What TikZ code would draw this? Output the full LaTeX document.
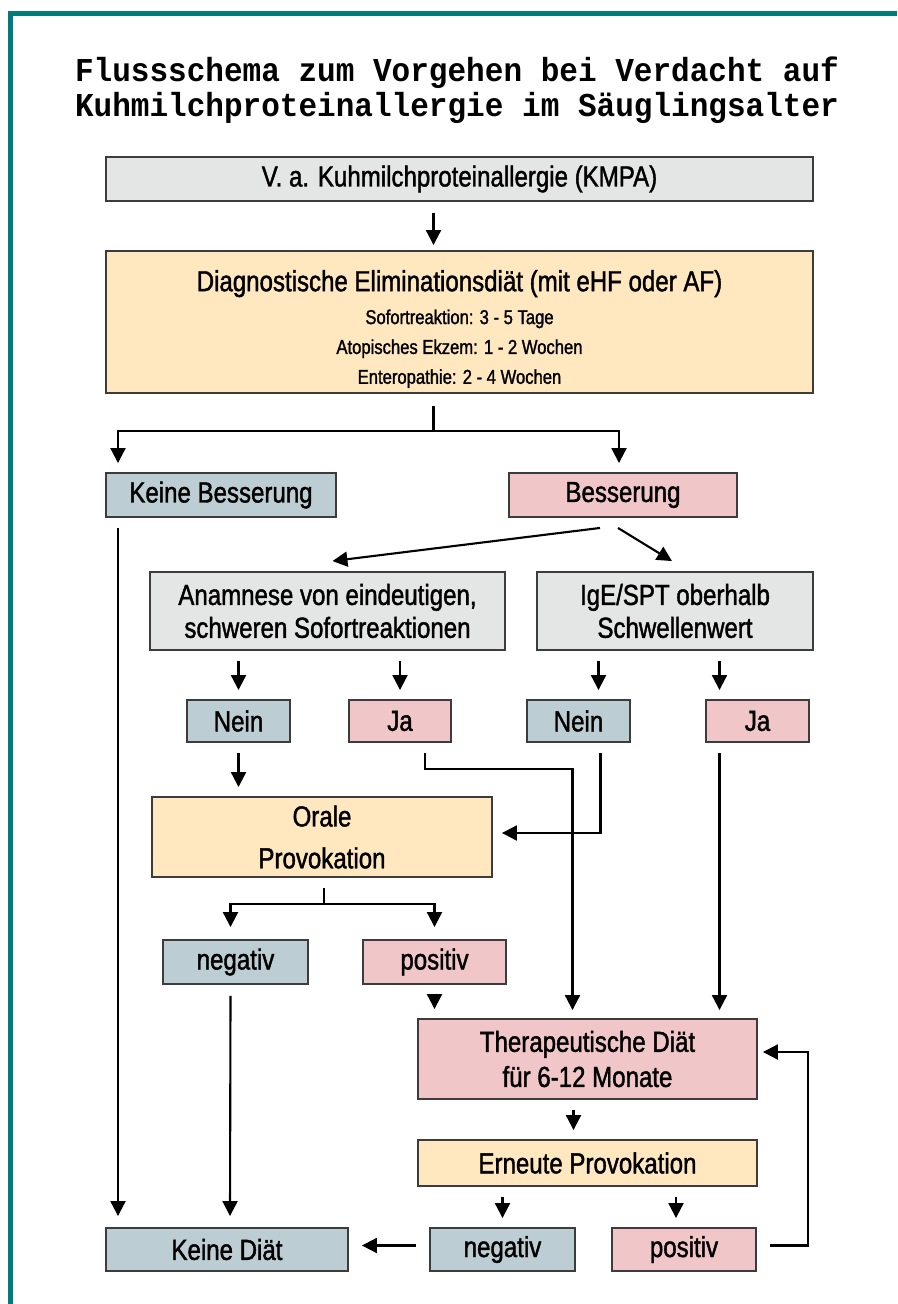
\documentclass[tikz,border=0pt]{standalone}
\usepackage{fontspec}
\setmainfont{Liberation Sans}[FakeStretch=0.83, FakeBold=1.4]
\newfontfamily\titlefont{Liberation Mono}[FakeStretch=0.93]
\usepackage{xcolor}
\usepackage{tikz}
\usetikzlibrary{positioning,calc,arrows.meta}
\definecolor{frameteal}{RGB}{0,122,122}
\definecolor{boxline}{RGB}{60,60,60}
\definecolor{boxgrey}{RGB}{228,229,229}
\definecolor{boxyellow}{RGB}{255,232,192}
\definecolor{boxblue}{RGB}{188,206,211}
\definecolor{boxpink}{RGB}{241,198,200}
\newcommand{\boxfont}{\fontsize{16.5}{20}\selectfont}
\newcommand{\subfont}{\fontsize{11.4}{17}\selectfont}
\tikzset{
	plainbox/.style = {draw=boxline, line width=1.1pt, inner sep=0, align=center, font=\boxfont},
	greybox/.style = {plainbox, fill=boxgrey},
	yellowbox/.style = {plainbox, fill=boxyellow},
	bluebox/.style = {plainbox, fill=boxblue},
	pinkbox/.style = {plainbox, fill=boxpink},
	boxsize/.style 2 args = {minimum width=#1, minimum height=#2},
	arr/.style = {-{Triangle[length=8.5pt,width=8.5pt]}, line width=1.2pt},
	gap/.style = {shorten <=0.2cm, shorten >=0.18cm}
}

\begin{document}
\begin{tikzpicture}[x=0.02cm, y=-0.02cm]
	\useasboundingbox (0,0) rectangle (897,1304);
	\fill[frameteal] (8,11) rectangle (897,16);
	\fill[frameteal] (8,11) rectangle (13,1304);
	
	\node [font=\titlefont\bfseries\fontsize{19}{20}\selectfont, align=center] (title) at (457,90)
		{Flussschema zum Vorgehen bei Verdacht auf\\Kuhmilchproteinallergie im Säuglingsalter};
	
	\node [greybox, boxsize={14.14cm}{0.88cm}] (kmpa) at (459.5,179) {V. a. Kuhmilchproteinallergie (KMPA)};
	\node [yellowbox, boxsize={14.14cm}{2.84cm}] (elim) at (459.5,322)
		{\rule{0pt}{20pt}Diagnostische Eliminationsdiät (mit eHF oder AF)\\[-1.3pt]
		{\subfont Sofortreaktion: 3 - 5 Tage}\\[-3pt]
		{\subfont Atopisches Ekzem: 1 - 2 Wochen}\\[-3pt]
		{\subfont Enteropathie: 2 - 4 Wochen}};
	\node [bluebox, boxsize={4.6cm}{0.88cm}] (keinebess) at (221,495) {Keine Besserung};
	\node [pinkbox, boxsize={4.56cm}{0.88cm}] (bess) at (623,495) {Besserung};
	\node [greybox, boxsize={7.1cm}{1.56cm}] (anam) at (327.5,611) {Anamnese von eindeutigen,\\[-1.3pt]schweren Sofortreaktionen};
	\node [greybox, boxsize={5.52cm}{1.56cm}] (ige) at (675,611) {IgE/SPT oberhalb\\[-1.3pt]Schwellenwert};
	\node [bluebox, boxsize={2.06cm}{0.84cm}] (nein1) at (238.5,721) {Nein};
	\node [pinkbox, boxsize={2.04cm}{0.84cm}] (ja1) at (400,721) {Ja};
	\node [bluebox, boxsize={2.06cm}{0.84cm}] (nein2) at (578.5,721) {Nein};
	\node [pinkbox, boxsize={2.06cm}{0.84cm}] (ja2) at (757.5,721) {Ja};
	\node [yellowbox, boxsize={6.8cm}{1.6cm}] (oral) at (322,837) {Orale\\[3.8pt]Provokation};
	\node [bluebox, boxsize={2.9cm}{0.88cm}] (neg1) at (235.5,962) {negativ};
	\node [pinkbox, boxsize={2.86cm}{0.88cm}] (pos1) at (434.5,962) {positiv};
	\node [pinkbox, boxsize={6.78cm}{1.6cm}] (thera) at (587.5,1059) {Therapeutische Diät\\für 6-12 Monate};
	\node [yellowbox, boxsize={6.78cm}{0.92cm}] (erneut) at (587.5,1163) {Erneute Provokation};
	\node [bluebox, boxsize={4.84cm}{0.86cm}] (keinediaet) at (227,1249.5) {Keine Diät};
	\node [bluebox, boxsize={2.9cm}{0.86cm}] (neg2) at (502.5,1249.5) {negativ};
	\node [pinkbox, boxsize={2.88cm}{0.86cm}] (pos2) at (684,1249.5) {positiv};
	
	\draw [arr] ($(kmpa.south)+(-26,11)$) -- ($(elim.north)+(-26,-5)$);
	\draw [line width=1.2pt] ($(elim.south)+(-26,12)$) -- ++(0,25) coordinate (split1);
	\draw [arr] (split1) -| ($(keinebess.north)+(-103,-9)$);
	\draw [arr] (split1) -| ($(bess.north)+(-4,-9)$);
	\draw [arr] ($(keinebess.south)+(-103,10)$) -- ($(keinediaet.north)+(-109,-11)$);
	
	\draw [arr] ($(bess.south)+(-23,10)$) -- ($(anam.north)+(5,-10)$);
	\draw [arr] ($(bess.south)+(-5,10)$) -- ($(ige.north)+(-3,-10)$);
	
	\coordinate (in2) at ($(nein2.north)+(20,0)$);
	\coordinate (ij2) at ($(ja2.north)+(-38,0)$);
	\draw [arr, gap] (anam.south -| nein1.north) -- (nein1.north);
	\draw [arr, gap] (anam.south -| ja1.north) -- (ja1.north);
	\draw [arr, gap] (ige.south -| in2) -- (in2);
	\draw [arr, gap] (ige.south -| ij2) -- (ij2);
	
	\draw [arr, gap] (nein1.south) -- (nein1.south |- oral.north);
	\draw [arr] ($(nein2.south)+(22,10)$) |- ($(oral.east)+(9,-4)$);
	\draw [arr] ($(ja1.south)+(25,10)$) -- ++(0,16) -| ($(thera.north)+(-15,-8)$);
	\draw [arr] ($(ja2.south)+(-38,10)$) -- ($(thera.north)+(132,-8)$);
	
	\draw [line width=1.2pt] ($(oral.south)+(2,10)$) -- ++(0,16) coordinate (split2);
	\draw [arr] (split2) -| ($(neg1.north)+(-5,-12)$);
	\draw [arr] (split2) -| ($(pos1.north)+(0,-12)$);
	\draw [arr, gap] (pos1.south) -- (pos1.south |- thera.north);
	\draw [arr] ($(neg1.south)+(-5,11)$) -- ($(keinediaet.north)+(3,-11)$);
	
	\coordinate (ip2) at ($(pos2.north)+(-8,0)$);
	\draw [arr, gap] ($(thera.south)+(-14,0)$) -- ($(erneut.north)+(-14,0)$);
	\draw [arr, gap] (erneut.south -| neg2.north) -- (neg2.north);
	\draw [arr, gap] (erneut.south -| ip2) -- (ip2);
	\draw [arr] ($(neg2.west)+(-13,-4)$) -- ($(keinediaet.east)+(13,-4)$);
	\draw [arr] ($(pos2.east)+(13,-4)$) -- ++(38,0) |- ($(thera.east)+(5,-7)$);
\end{tikzpicture}
\end{document}
